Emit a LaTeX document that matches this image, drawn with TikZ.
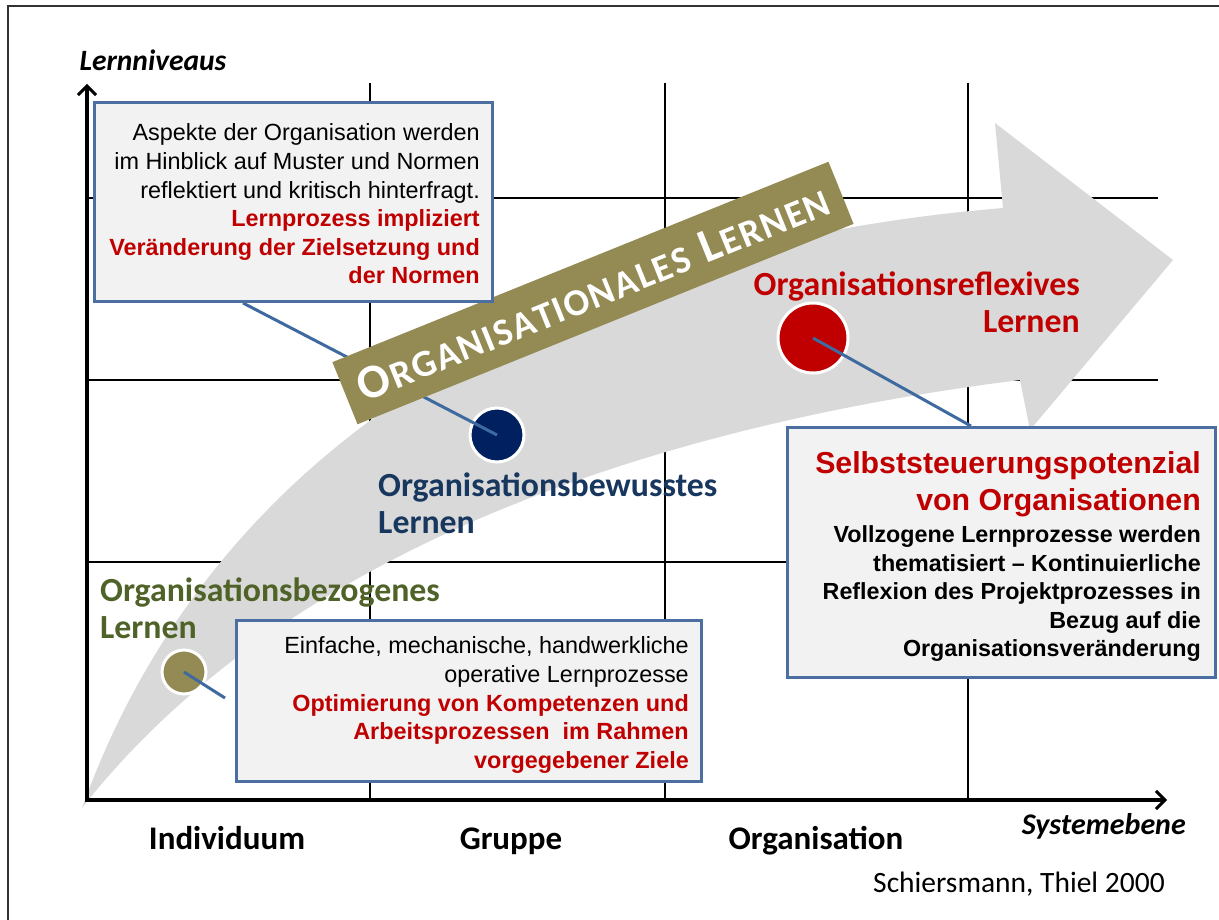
\documentclass[tikz,border=0pt]{standalone}
\usepackage{fontspec}
\setmainfont{Carlito}
\newfontfamily\arial{Liberation Sans}
\usetikzlibrary{arrows.meta}
\definecolor{arrowgray}{HTML}{D9D9D9}
\definecolor{olive}{HTML}{948A54}
\definecolor{olivetext}{HTML}{4F6228}
\definecolor{navy}{HTML}{002060}
\definecolor{navytext}{HTML}{17375E}
\definecolor{darkred}{HTML}{C00000}
\definecolor{boxfill}{HTML}{F2F2F2}
\definecolor{boxline}{HTML}{4A6FA0}
\definecolor{connline}{HTML}{3F6AA0}
\newcommand\bsp{\kern1.5pt}
\tikzset{
  gridline/.style={line width=1.8pt, black},
  axisline/.style={line width=3.5pt, black, -{Straight Barb[length=9pt,width=18pt,line width=3pt]}},
  framestyle/.style={line width=2pt, black!80},
  infobox/.style={draw=boxline, line width=3pt, fill=boxfill, inner sep=0pt},
  dot/.style={circle, draw=white, line width=3pt, inner sep=0pt},
  conn/.style={connline, line width=3pt},
  boxtext/.style={inner sep=0pt, align=right, font=\arial\fontsize{23.4}{28.6}\selectfont},
  levellabel/.style={inner sep=0pt, font=\bfseries\fontsize{33.8}{37}\selectfont},
  sysla/.style={inner sep=0pt, anchor=base, font=\bfseries\fontsize{33}{37}\selectfont},
}
\begin{document}
\begin{tikzpicture}[x=1pt,y=-1pt]
\useasboundingbox (0,0) rectangle (1219,920);
\fill[white] (0,0) rectangle (1219,920);
% frame
\draw[framestyle] (8,920) -- (8,6) -- (1219,6);
% grid
\foreach \x in {370,665,968} \draw[gridline] (\x,83) -- (\x,800);
\foreach \y in {198,380,562} \draw[gridline] (87,\y) -- (1158,\y);
% big gray arrow
\fill[arrowgray] (82,808) .. controls (200,480) and (500,250) .. (1003,208)
  -- (995,123) -- (1173,260) -- (1030,430) -- (1020,380)
  .. controls (700,420) and (300,530) .. (82,808) -- cycle;
% axes
\coordinate (origin) at (87,802);
\coordinate (xorigin) at (85,800);
\coordinate (ytip) at (87,84);
\coordinate (xtip) at (1167,800);
\draw[axisline] (origin) -- (ytip);
\draw[axisline] (xorigin) -- (xtip);
\node[inner sep=0pt, font=\bfseries\itshape\fontsize{29.5}{29.5}\selectfont] (ylab) at (153,60) {Lernniveaus};
\node[inner sep=0pt, anchor=east, font=\bfseries\itshape\fontsize{30}{30}\selectfont] (xlab) at (1186,826) {Systemebene};
\node[sysla] (ind) at (227,849) {Individuum};
\node[sysla] (grp) at (511,849) {Gruppe};
\node[sysla] (org) at (816,849) {Organisation};
\node[inner sep=0pt, anchor=east, font=\fontsize{29.5}{29.5}\selectfont] (src) at (1165,884) {Schiersmann, Thiel 2000};
% level labels
\node[levellabel, olivetext, align=left, anchor=west] (l1) at (100,608) {Organisationsbezogenes\\Lernen};
\node[levellabel, navytext, align=left, anchor=west] (l2) at (378,503) {Organisationsbewusstes\\Lernen};
\node[levellabel, darkred, align=right, anchor=east] (l3) at (1080,302) {Organisationsreflexives\\Lernen};
% dots
\node[dot, fill=olive, minimum size=44pt] (c1) at (184,672) {};
\node[dot, fill=navy, minimum size=54pt] (c2) at (497,435) {};
\node[dot, fill=darkred, minimum size=70pt] (c3) at (813,338) {};
% connectors
\coordinate (e1) at (225,698);
\coordinate (e2) at (243,303);
\coordinate (e3) at (971,426);
\draw[conn] (c1.center) -- (e1);
\draw[conn] (c2.center) -- (e2);
\draw[conn] (c3.center) -- (e3);
% banner
\node[fill=olive, rotate=22, minimum width=535pt, minimum height=67pt, inner sep=0pt, text=white,
  font=\bfseries\fontsize{38}{38}\selectfont] (banner) at (593,293)
  {{\fontsize{48}{48}\selectfont O}\bsp R\bsp G\bsp A\bsp N\bsp I\bsp S\bsp A\bsp T\bsp I\bsp O\bsp N\bsp A\bsp L\bsp E\bsp S\hspace{14pt}{\fontsize{48}{48}\selectfont L}\bsp E\bsp R\bsp N\bsp E\bsp N};
% boxes
\node[infobox, minimum width=398pt, minimum height=199pt] (b1) at (293,202.5) {};
\node[boxtext, anchor=east] (t1) at (480,204) {Aspekte der Organisation werden\\im Hinblick auf Muster und Normen\\reflektiert und kritisch hinterfragt.\\
  \color{darkred}\bfseries Lernprozess impliziert\\\color{darkred}\bfseries Veränderung der Zielsetzung und\\\color{darkred}\bfseries der Normen};
\node[infobox, minimum width=465pt, minimum height=161pt] (b2) at (468.5,700.5) {};
\node[boxtext, anchor=east] (t2) at (689,705) {Einfache, mechanische, handwerkliche\\operative Lernprozesse\\
  \color{darkred}\bfseries Optimierung von Kompetenzen und\\\color{darkred}\bfseries Arbeitsprozessen\ \ im Rahmen\\\color{darkred}\bfseries vorgegebener Ziele};
\node[infobox, minimum width=428pt, minimum height=250pt] (b3) at (1001,552) {};
\node[inner sep=0pt, align=right, anchor=east, darkred, font=\arial\bfseries\fontsize{30.3}{36.5}\selectfont] (t3a) at (1201,484) {Selbststeuerungspotenzial\\von Organisationen};
\node[boxtext, anchor=east, font=\arial\bfseries\fontsize{23.3}{28.5}\selectfont] (t3b) at (1201,594) {Vollzogene Lernprozesse werden\\thematisiert – Kontinuierliche\\Reflexion des Projektprozesses in\\Bezug auf die\\Organisationsveränderung};
\end{tikzpicture}
\end{document}
